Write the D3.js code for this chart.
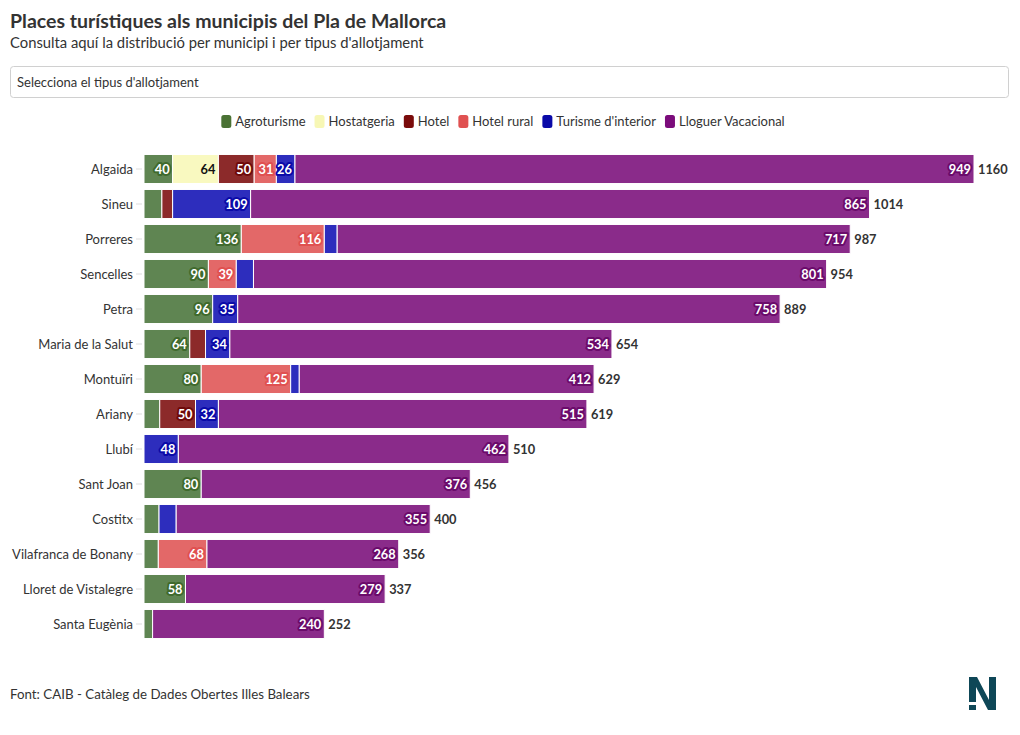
<!DOCTYPE html>
<html><head><meta charset="utf-8">
<script src="https://cdn.jsdelivr.net/npm/d3@7"></script>
<style>
body{margin:0;background:#fff;font-family:Lato,"Noto Sans",sans-serif;}
svg{display:block}
</style></head>
<body><svg id="c" width="1020" height="735"></svg>
<script>
const municipis = ["Algaida","Sineu","Porreres","Sencelles","Petra","Maria de la Salut","Montuïri","Ariany","Llubí","Sant Joan","Costitx","Vilafranca de Bonany","Lloret de Vistalegre","Santa Eugènia"];
const tipus = ["Agroturisme","Hostatgeria","Hotel","Hotel rural","Turisme d'interior","Lloguer Vacacional"];
const agroturisme = [40,25,136,90,96,64,80,22,0,80,21,20,58,12];
const hostatgeria = [64,0,0,0,0,0,0,0,0,0,0,0,0,0];
const hotel =       [50,15,0,0,0,22,0,50,0,0,0,0,0,0];
const hotelRural =  [31,0,116,39,0,0,125,0,0,0,0,68,0,0];
const turismeInterior = [26,109,18,24,35,34,12,32,48,0,24,0,0,0];
const lloguerVacacional = [949,865,717,801,758,534,412,515,462,376,355,268,279,240];

const legendColors = ["#4a7234","#f7f7b5","#7a0b0b","#e05151","#0a0aa8","#7b0c7b"];
const barColors = ["#5f8552","#f9f9c0","#8c2a2a","#e36868","#2d2dbd","#8a2b8a"];
const haloColors = ["#3f6a2d","#f9f9c0","#6e0a0a","#e05050","#0a0aa8","#6b0b6b"];
const textColors = ["#fff","#111","#fff","#fff","#fff","#fff"];

const series = [agroturisme,hostatgeria,hotel,hotelRural,turismeInterior,lloguerVacacional];
const rows = municipis.map((m,i)=>{const o={m}; tipus.forEach((t,j)=>o[t]=series[j][i]); return o;});
const stack = d3.stack().keys(tipus)(rows);

const svg = d3.select("#c");
svg.append("text").attr("x",10).attr("y",28).attr("font-size",19.5).attr("font-weight",700).attr("fill","#333").text("Places turístiques als municipis del Pla de Mallorca");
svg.append("text").attr("x",10).attr("y",48).attr("font-size",14.8).attr("fill","#333").text("Consulta aquí la distribució per municipi i per tipus d'allotjament");

svg.append("rect").attr("x",10.5).attr("y",66.5).attr("width",998).attr("height",31).attr("rx",3).attr("fill","#fff").attr("stroke","#d0d0d0");
svg.append("text").attr("x",17).attr("y",87).attr("font-size",13).attr("fill","#333").text("Selecciona el tipus d'allotjament");

// legend
const lg = svg.append("g");
let lx = 0;
tipus.forEach((t,j)=>{
  const g = lg.append("g").attr("transform",`translate(${lx},0)`);
  g.append("rect").attr("x",0).attr("y",-6).attr("width",10).attr("height",13).attr("rx",2.5).attr("fill",legendColors[j]);
  const tx = g.append("text").attr("x",14).attr("y",5).attr("font-size",13).attr("fill","#333").text(t);
  lx += 14 + tx.node().getComputedTextLength() + 9;
});
lg.attr("transform",`translate(${503-(lx-9)/2},121)`);

const x = d3.scaleLinear().domain([0,1160]).range([144,974]);
const y = d3.scaleBand().domain(municipis).range([151.5,641.5]).paddingInner(0.17).paddingOuter(0.085);

// y axis labels and ticks
const ya = svg.append("g");
municipis.forEach(m=>{
  const cy = y(m)+y.bandwidth()/2;
  ya.append("line").attr("x1",136).attr("x2",142).attr("y1",cy).attr("y2",cy).attr("stroke","#ddd");
  ya.append("text").attr("x",133).attr("y",cy+4.5).attr("text-anchor","end").attr("font-size",13).attr("fill","#333").text(m);
});

const bars = svg.append("g");
stack.forEach((s,j)=>{
  s.forEach((d,i)=>{
    const w = x(d[1])-x(d[0]);
    if (w<=0) return;
    bars.append("rect").attr("x",x(d[0])).attr("y",y(municipis[i])).attr("width",w).attr("height",y.bandwidth())
      .attr("fill",barColors[j]).attr("stroke","#fff").attr("stroke-width",1);
  });
});
stack.forEach((s,j)=>{
  s.forEach((d,i)=>{
    const w = x(d[1])-x(d[0]);
    const v = d[1]-d[0];
    if (w < 18) return;
    const cy = y(municipis[i])+y.bandwidth()/2;
    bars.append("text").attr("x",x(d[1])-3).attr("y",cy+4.5).attr("text-anchor","end").attr("font-size",12.8).attr("font-weight",700)
      .attr("fill",textColors[j]).attr("stroke",haloColors[j]).attr("stroke-width",4).attr("stroke-linejoin","round").attr("paint-order","stroke").text(v);
  });
});
rows.forEach((r,i)=>{
  const tot = d3.sum(tipus,t=>r[t]);
  const cy = y(municipis[i])+y.bandwidth()/2;
  bars.append("text").attr("x",x(tot)+4).attr("y",cy+4.5).attr("font-size",12.8).attr("font-weight",700).attr("fill","#333").text(tot);
});

svg.append("text").attr("x",10).attr("y",699).attr("font-size",13.3).attr("fill","#333").text("Font: CAIB - Catàleg de Dades Obertes Illes Balears");
// logo
const lgo = svg.append("g").attr("fill","#0e4757");
lgo.append("path").attr("d","M969,677 L977,677 L989,700 L989,677 L996,677 L996,710 L988,710 L976,687 L976,702 L969,702 Z");
lgo.append("rect").attr("x",969).attr("y",705).attr("width",7).attr("height",5);
</script></body></html>
